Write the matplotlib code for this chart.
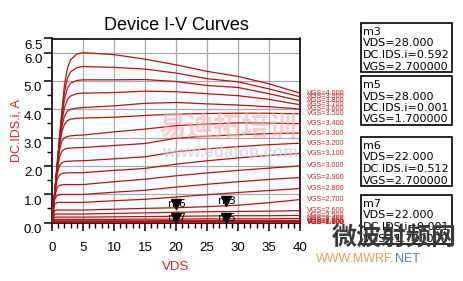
import matplotlib
matplotlib.use("Agg")
import matplotlib.pyplot as plt
import matplotlib.transforms as mtransforms
from matplotlib.patches import Rectangle

plt.rcParams['font.family'] = ['Liberation Sans', 'DejaVu Sans']

# drain voltage sweep points, V
vds = [0, 0.4, 0.8, 1.2, 1.6, 2.0, 2.5, 3.0, 4.0, 5, 10, 15, 20, 25, 30, 35, 40]

# gate voltage for each curve, V
vgs = [4.0, 3.9, 3.8, 3.7, 3.6, 3.5, 3.4, 3.3, 3.2, 3.1, 3.0, 2.9,
       2.8, 2.7, 2.6, 2.5, 2.4, 2.3, 2.2, 2.1, 2.0, 1.9, 1.8, 1.7]

# drain current DC.IDS.i, A (one row per vgs)
ids = [
    [0, 1.00, 2.00, 3.00, 3.95, 4.85, 5.45, 5.75, 5.95, 6.00, 5.93, 5.77, 5.57, 5.34, 5.16, 4.90, 4.57],
    [0, 0.98, 1.96, 2.94, 3.85, 4.60, 5.10, 5.32, 5.47, 5.51, 5.48, 5.42, 5.28, 5.08, 4.97, 4.72, 4.44],
    [0, 0.97, 1.93, 2.88, 3.72, 4.35, 4.75, 4.92, 5.02, 5.04, 5.04, 5.05, 4.98, 4.84, 4.77, 4.55, 4.30],
    [0, 0.96, 1.90, 2.82, 3.58, 4.05, 4.35, 4.47, 4.55, 4.57, 4.59, 4.64, 4.62, 4.55, 4.48, 4.35, 4.16],
    [0, 0.95, 1.88, 2.76, 3.40, 3.75, 3.94, 4.00, 4.04, 4.06, 4.12, 4.21, 4.24, 4.19, 4.15, 4.09, 4.01],
    [0, 0.94, 1.85, 2.70, 3.22, 3.46, 3.60, 3.65, 3.68, 3.69, 3.72, 3.78, 3.83, 3.85, 3.86, 3.86, 3.84],
    [0, 0.93, 1.82, 2.55, 2.87, 2.99, 3.04, 3.06, 3.08, 3.09, 3.20, 3.30, 3.42, 3.48, 3.52, 3.51, 3.49],
    [0, 0.92, 1.78, 2.30, 2.52, 2.59, 2.62, 2.63, 2.64, 2.65, 2.72, 2.79, 2.98, 3.05, 3.10, 3.14, 3.16],
    [0, 0.91, 1.70, 2.00, 2.11, 2.15, 2.16, 2.17, 2.18, 2.18, 2.25, 2.32, 2.50, 2.60, 2.68, 2.75, 2.80],
    [0, 0.90, 1.50, 1.68, 1.73, 1.75, 1.75, 1.76, 1.76, 1.76, 1.84, 1.91, 2.06, 2.18, 2.28, 2.37, 2.44],
    [0, 0.88, 1.22, 1.31, 1.33, 1.34, 1.34, 1.34, 1.34, 1.34, 1.44, 1.53, 1.65, 1.75, 1.84, 1.92, 2.00],
    [0, 0.80, 0.95, 0.98, 0.99, 0.99, 0.99, 0.99, 0.99, 0.99, 1.07, 1.14, 1.25, 1.35, 1.44, 1.52, 1.59],
    [0, 0.64, 0.70, 0.71, 0.71, 0.71, 0.71, 0.71, 0.71, 0.71, 0.77, 0.82, 0.90, 0.98, 1.06, 1.13, 1.20],
    [0, 0.42, 0.44, 0.44, 0.44, 0.44, 0.44, 0.44, 0.44, 0.44, 0.47, 0.50, 0.52, 0.56, 0.61, 0.70, 0.81],
    [0, 0.29, 0.30, 0.30, 0.30, 0.30, 0.30, 0.30, 0.30, 0.30, 0.32, 0.34, 0.36, 0.38, 0.39, 0.40, 0.42],
    [0, 0.19, 0.19, 0.19, 0.19, 0.19, 0.19, 0.19, 0.19, 0.19, 0.20, 0.21, 0.22, 0.23, 0.24, 0.24, 0.25],
    [0, 0.11, 0.11, 0.11, 0.11, 0.11, 0.11, 0.11, 0.11, 0.11, 0.11, 0.12, 0.12, 0.13, 0.13, 0.13, 0.14],
    [0, 0.06, 0.06, 0.06, 0.06, 0.06, 0.06, 0.06, 0.06, 0.06, 0.06, 0.06, 0.07, 0.07, 0.07, 0.07, 0.07],
    [0, 0.03, 0.03, 0.03, 0.03, 0.03, 0.03, 0.03, 0.03, 0.03, 0.03, 0.03, 0.03, 0.03, 0.035, 0.035, 0.035],
    [0, 0.015, 0.015, 0.015, 0.015, 0.015, 0.015, 0.015, 0.015, 0.015, 0.015, 0.015, 0.015, 0.015, 0.015, 0.015, 0.015],
    [0, 0.008, 0.008, 0.008, 0.008, 0.008, 0.008, 0.008, 0.008, 0.008, 0.008, 0.008, 0.008, 0.008, 0.008, 0.008, 0.008],
    [0, 0.004, 0.004, 0.004, 0.004, 0.004, 0.004, 0.004, 0.004, 0.004, 0.004, 0.004, 0.004, 0.004, 0.004, 0.004, 0.004],
    [0, 0.002, 0.002, 0.002, 0.002, 0.002, 0.002, 0.002, 0.002, 0.002, 0.002, 0.002, 0.002, 0.002, 0.002, 0.002, 0.002],
    [0, 0.001, 0.001, 0.001, 0.001, 0.001, 0.001, 0.001, 0.001, 0.001, 0.001, 0.001, 0.001, 0.001, 0.001, 0.001, 0.001],
]

# markers: name, position drawn on the plot, readout values
mk_names = ['m3', 'm5', 'm6', 'm7']
mk_x = [28, 28, 20, 20]
mk_vds = [28.0, 28.0, 22.0, 22.0]
mk_ids = [0.592, 0.001, 0.512, 0.001]
mk_vgs = [2.7, 1.7, 2.7, 1.7]

xticks = [0, 5, 10, 15, 20, 25, 30, 35, 40]
yticks = [0.0, 1.0, 2.0, 3.0, 4.0, 5.0, 6.0, 6.5]

curve_col = '#b01414'
label_red = '#d02828'

fig = plt.figure(figsize=(4.64, 2.81), dpi=100)
W, H = 464.0, 281.0
ax = fig.add_axes([52 / W, 1 - 222.5 / H, 248 / W, 184 / H])

for v, row in zip(vgs, ids):
    ax.plot(vds, row, color=curve_col, lw=0.9, zorder=3)
    ax.annotate('VGS=%.3f' % v, xy=(vds[-1], row[-1]), xytext=(5, 0),
                textcoords='offset points', fontsize=5.2, color=label_red,
                va='center', ha='left', annotation_clip=False)

# marker triangles, tip on the point
tri_off = mtransforms.offset_copy(ax.transData, fig=fig, x=0, y=4.5, units='dots')
txt_off = mtransforms.offset_copy(ax.transData, fig=fig, x=-8, y=4.5, units='dots')
for name, x, y in zip(mk_names, mk_x, mk_ids):
    ax.text(x, y, name, transform=txt_off, fontsize=8, va='center', ha='left',
            family='DejaVu Sans', zorder=5)
    ax.plot([x], [y], marker='v', ms=7, color='black', transform=tri_off,
            zorder=6, clip_on=False)

ax.set_xlim(0, 40)
ax.set_ylim(0, 6.5)
ax.set_xticks(xticks)
ax.set_xticks(range(0, 41), minor=True)
ax.set_yticks(yticks)
ax.set_yticks([0.5, 1.5, 2.5, 3.5, 4.5, 5.5], minor=True)
ax.set_xticklabels([str(t) for t in xticks])
ax.set_yticklabels(['%.1f' % t for t in yticks])
ax.tick_params(which='major', direction='out', length=6, width=1.1, labelsize=9.5, pad=8)
ax.tick_params(axis='y', which='major', length=6, pad=1)
ax.tick_params(which='minor', direction='out', length=3.5, width=1.0)
for lab in ax.get_yticklabels():
    lab.set_transform(lab.get_transform() + mtransforms.ScaledTranslation(0, -6 / 100, fig.dpi_scale_trans))

for t in xticks[1:-1]:
    ax.axvline(t, color='#a8a8a8', lw=0.9, zorder=1)
for t in [1, 2, 3, 4, 5, 6]:
    ax.axhline(t, color='#a8a8a8', lw=0.9, zorder=1)
for s in ax.spines.values():
    s.set_linewidth(1.2)

ax.set_title('Device I-V Curves', fontsize=13, pad=6)
ax.set_xlabel('VDS', fontsize=9.5, color=label_red, labelpad=5)
ax.set_ylabel('DC.IDS.i, A', fontsize=9, color=label_red, labelpad=1)

# marker readout boxes
box_tops = [23, 76, 137, 195]
for name, top, vx, iy, vg in zip(mk_names, box_tops, mk_vds, mk_ids, mk_vgs):
    fig.patches.append(Rectangle((361 / W, 1 - (top + 49) / H), 91 / W, 49 / H,
                                 transform=fig.transFigure, fill=False,
                                 edgecolor='black', lw=1.2))
    lines = [name, 'VDS=%.3f' % vx, 'DC.IDS.i=%.3f' % iy, 'VGS=%.6f' % vg]
    for k, s in enumerate(lines):
        fig.text(363 / W, 1 - (top + 9 + 11.5 * k) / H, s, fontsize=8,
                 family='DejaVu Sans', va='center', ha='left')

# watermarks
fig.text(228 / W, 1 - 128 / H, '易迪拓培训', fontsize=20, fontweight='bold',
         color='#f2b0b0', alpha=0.6, ha='center', va='center',
         family=['Noto Sans CJK SC'])
fig.text(230 / W, 1 - 152 / H, 'www.edatop.com', fontsize=12, fontweight='bold',
         color='#c8d2e2', alpha=0.7, ha='center', va='center')
fig.text(394 / W, 1 - 238 / H, '微波射频网', fontsize=18, fontweight='bold',
         color='#3a3a3a', ha='center', va='center', family=['Noto Sans CJK SC'])
fig.text(395 / W, 1 - 259 / H, 'WWW.MWRF.', fontsize=9, color='#e0a050',
         ha='right', va='center')
fig.text(395 / W, 1 - 259 / H, 'NET', fontsize=9, color='#4a7fb0',
         ha='left', va='center')

fig.savefig('out.png', dpi=100)
